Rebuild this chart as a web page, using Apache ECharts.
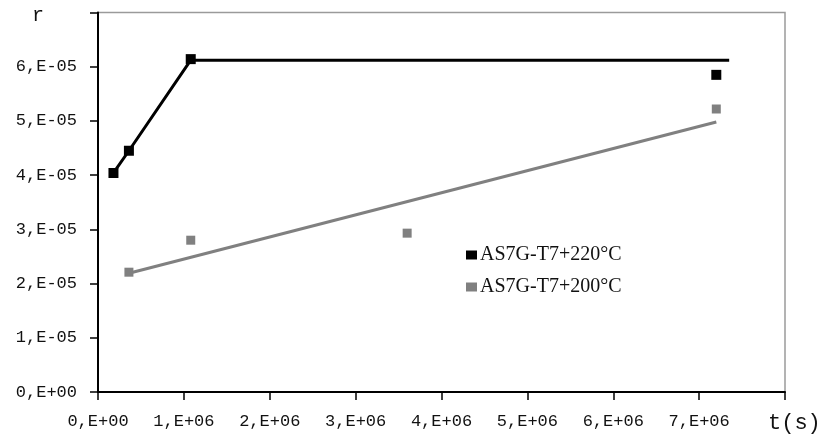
<!DOCTYPE html>
<html><head><meta charset="utf-8">
<script src="https://cdn.jsdelivr.net/npm/echarts@6/dist/echarts.min.js"></script>
<style>html,body{margin:0;padding:0;background:#fff}#c{width:831px;height:441px}</style>
</head><body><div id="c"></div>
<script>
// Data (t in seconds, r)
const t220 = [1.8e5, 3.6e5, 1.08e6, 7.2e6];
const r220 = [4.04e-5, 4.45e-5, 6.14e-5, 5.85e-5];
const lineT220 = [1.8e5, 3.6e5, 1.08e6, 7.35e6];
const lineR220 = [4.04e-5, 4.45e-5, 6.12e-5, 6.12e-5];
const t200 = [3.6e5, 1.08e6, 3.6e6, 7.2e6];
const r200 = [2.21e-5, 2.8e-5, 2.93e-5, 5.22e-5];
const trendT200 = [3.6e5, 7.2e6];
const trendR200 = [2.19e-5, 4.98e-5];
const xTickLabels = ['0,E+00','1,E+06','2,E+06','3,E+06','4,E+06','5,E+06','6,E+06','7,E+06',''];
const yTickLabels = ['0,E+00','1,E-05','2,E-05','3,E-05','4,E-05','5,E-05','6,E-05',''];
const names = ['AS7G-T7+220°C', 'AS7G-T7+200°C'];

const zip = (a, b) => a.map((v, i) => [v, b[i]]);
const chart = echarts.init(document.getElementById('c'));
const mono = 'Liberation Mono';
chart.setOption({
  animation: false,
  grid: { left: 98, right: 46, top: 12.5, bottom: 49, show: true, borderColor: '#9a9a9a', borderWidth: 1.5 },
  xAxis: {
    type: 'value', min: 0, max: 8e6, interval: 1e6,
    axisLine: { show: true, lineStyle: { color: '#000', width: 2 } },
    axisTick: { show: true, length: 8, lineStyle: { color: '#000', width: 1.5 } },
    splitLine: { show: false },
    axisLabel: { margin: 21, color: '#111', fontFamily: mono, fontSize: 17,
      formatter: (v) => xTickLabels[Math.round(v / 1e6)] }
  },
  yAxis: {
    type: 'value', min: 0, max: 7e-5, interval: 1e-5,
    axisLine: { show: true, lineStyle: { color: '#000', width: 2 } },
    axisTick: { show: true, length: 8, lineStyle: { color: '#000', width: 1.5 } },
    splitLine: { show: false },
    axisLabel: { margin: 21, color: '#111', fontFamily: mono, fontSize: 17,
      formatter: (v) => yTickLabels[Math.round(v / 1e-5)] }
  },
  legend: {
    left: 461, top: 240, orient: 'vertical', itemGap: 12, itemWidth: 11, itemHeight: 9,
    icon: 'rect',
    textStyle: { fontFamily: 'Liberation Serif', fontSize: 20, color: '#111', padding: [0,0,0,-2] },
    data: names
  },
  graphic: [
    { type: 'text', left: 32, top: 6, style: { text: 'r', font: '20px "Liberation Mono"', fill: '#111' } },
    { type: 'text', left: 768, top: 412, style: { text: 't(s)', font: '22px "Liberation Mono"', fill: '#111' } }
  ],
  series: [
    { name: names[0] + ' line', type: 'line', data: zip(lineT220, lineR220), showSymbol: false, symbol: 'none',
      lineStyle: { color: '#000', width: 3 }, z: 2 },
    { name: names[1] + ' line', type: 'line', data: zip(trendT200, trendR200), showSymbol: false, symbol: 'none',
      lineStyle: { color: '#808080', width: 3 }, z: 2 },
    { name: names[0], type: 'scatter', data: zip(t220, r220), symbol: 'rect', symbolSize: 10,
      itemStyle: { color: '#000', opacity: 1 }, z: 3 },
    { name: names[1], type: 'scatter', data: zip(t200, r200), symbol: 'rect', symbolSize: 9,
      itemStyle: { color: '#808080', opacity: 1 }, z: 3 }
  ]
});
</script></body></html>
